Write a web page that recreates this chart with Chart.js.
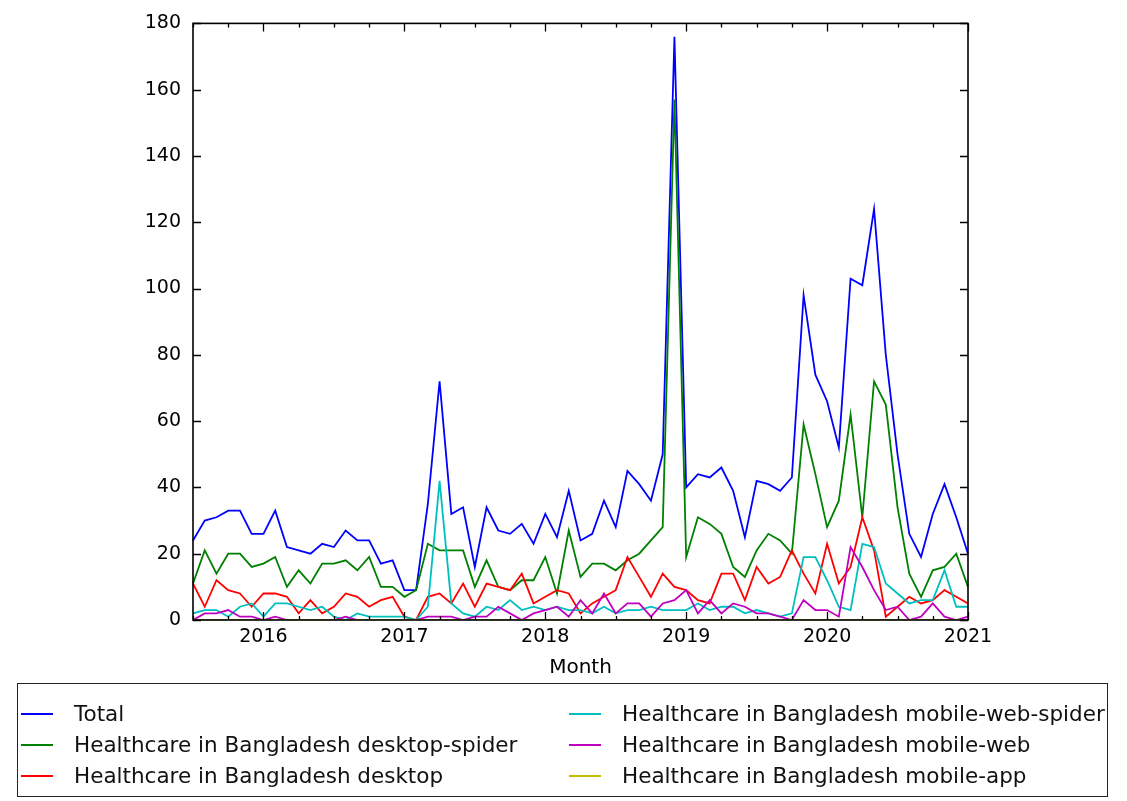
<!DOCTYPE html>
<html>
<head>
<meta charset="utf-8">
<script src="https://cdn.jsdelivr.net/npm/chart.js@4.4.1/dist/chart.umd.min.js"></script>
<style>
    body { margin: 0; background: #fff; font-family: "DejaVu Sans", sans-serif; }
    #wrap { position: absolute; left: 0; top: 0; width: 1127px; height: 690px; }
    #legend {
        position: absolute; left: 17px; top: 683px; width: 1089px; height: 112px;
        border: 1.3px solid #222; box-sizing: content-box;
    }
    .item { position: absolute; height: 24px; font-size: 21.5px; line-height: 24px; color: #111; white-space: nowrap; }
    .item span.swatch { position: absolute; left: 0; top: 11px; width: 32px; height: 2px; }
    .item span.text { position: absolute; left: 53px; top: 0; }
</style>
</head>
<body>
<div id="wrap"><canvas id="chart"></canvas></div>
<div id="legend"></div>
<script>
// Monthly categories, Jul 2015 .. Jan 2021
const months = [
    '2015-07','2015-08','2015-09','2015-10','2015-11','2015-12',
    '2016-01','2016-02','2016-03','2016-04','2016-05','2016-06','2016-07','2016-08','2016-09','2016-10','2016-11','2016-12',
    '2017-01','2017-02','2017-03','2017-04','2017-05','2017-06','2017-07','2017-08','2017-09','2017-10','2017-11','2017-12',
    '2018-01','2018-02','2018-03','2018-04','2018-05','2018-06','2018-07','2018-08','2018-09','2018-10','2018-11','2018-12',
    '2019-01','2019-02','2019-03','2019-04','2019-05','2019-06','2019-07','2019-08','2019-09','2019-10','2019-11','2019-12',
    '2020-01','2020-02','2020-03','2020-04','2020-05','2020-06','2020-07','2020-08','2020-09','2020-10','2020-11','2020-12',
    '2021-01'
];
const yearTicks = ['2016', '2017', '2018', '2019', '2020', '2021'];
const yTicks = [0, 20, 40, 60, 80, 100, 120, 140, 160, 180];

const total = [24,30,31,33,33,26,26,33,22,21, 20,23,22,27,24,24,17,18,9,9,
    35,72,32,34,16,34,27,26,29,23, 32,25,39,24,26,36,28,45,41,36,
    50,176,40,44,43,46,39,25,42,41, 39,43,98,74,66,52,103,101,124,80,
    50,26,19,32,41,31,20];
const desktopSpider = [11,21,14,20,20,16,17,19,10,15, 11,17,17,18,15,19,10,10,7,9,
    23,21,21,21,10,18,10,9,12,12, 19,8,27,13,17,17,15,18,20,24,
    28,157,19,31,29,26,16,13,21,26, 24,20,59,44,28,36,62,31,72,65,
    34,14,7,15,16,20,10];
const desktop = [11,4,12,9,8,4,8,8,7,2, 6,2,4,8,7,4,6,7,1,0,
    7,8,5,11,4,11,10,9,14,5, 7,9,8,2,5,7,9,19,13,7,
    14,10,9,6,5,14,14,6,16,11, 13,21,14,8,23,11,16,31,21,1,
    4,7,5,6,9,7,5];
const mobileWebSpider = [2,3,3,1,4,5,1,5,5,4, 3,4,1,0,2,1,1,1,1,0,
    4,42,5,2,1,4,3,6,3,4, 3,4,3,3,2,4,2,3,3,4,
    3,3,3,5,3,4,4,2,3,2, 1,2,19,19,12,4,3,23,22,11,
    8,5,6,6,15,4,4];
const mobileWeb = [0,2,2,3,1,1,0,1,0,0, 0,0,0,1,0,0,0,0,0,0,
    1,1,1,0,1,1,4,2,0,2, 3,4,1,6,2,8,2,5,5,1,
    5,6,9,2,6,2,5,4,2,2, 1,0,6,3,3,1,22,16,9,3,
    4,0,1,5,1,0,1];
const mobileApp = [0,0,0,0,0,0,0,0,0,0, 0,0,0,0,0,0,0,0,0,0,
    0,0,0,0,0,0,0,0,0,0, 0,0,0,0,0,0,0,0,0,0,
    0,0,0,0,0,0,0,0,0,0, 0,0,0,0,0,0,0,0,0,0,
    0,0,0,0,0,0,0];

const seriesNames = [
    'Total',
    'Healthcare in Bangladesh desktop-spider',
    'Healthcare in Bangladesh desktop',
    'Healthcare in Bangladesh mobile-web-spider',
    'Healthcare in Bangladesh mobile-web',
    'Healthcare in Bangladesh mobile-app'
];
const seriesData = [total, desktopSpider, desktop, mobileWebSpider, mobileWeb, mobileApp];
const seriesColors = ['#0000ff', '#008000', '#ff0000', '#00bfbf', '#bf00bf', '#bfbf00'];

const FONT = "'DejaVu Sans', sans-serif";

// matplotlib style frame with inward ticks on all four sides
const frameTicks = {
    id: 'frameTicks',
    afterDatasetsDraw(chart) {
        const ctx = chart.ctx;
        const a = chart.chartArea;
        const xs = chart.scales.x;
        const ys = chart.scales.y;
        ctx.save();
        ctx.strokeStyle = '#000';
        ctx.lineWidth = 1.3;
        ctx.beginPath();
        months.forEach((m, i) => {
            const isMajor = m.endsWith('-01');
            if (!isMajor && i % 3 !== 0) return;
            const len = isMajor ? 8 : 4;
            const px = Math.round(xs.getPixelForValue(i)) + 0.5;
            ctx.moveTo(px, a.bottom); ctx.lineTo(px, a.bottom - len);
            ctx.moveTo(px, a.top); ctx.lineTo(px, a.top + len);
        });
        yTicks.forEach(v => {
            const py = Math.round(ys.getPixelForValue(v)) + 0.5;
            ctx.moveTo(a.left, py); ctx.lineTo(a.left + 8, py);
            ctx.moveTo(a.right, py); ctx.lineTo(a.right - 8, py);
        });
        ctx.stroke();
        ctx.lineWidth = 1.6;
        ctx.strokeRect(a.left, a.top, a.right - a.left, a.bottom - a.top);
        ctx.restore();
    }
};

const chart = new Chart(document.getElementById('chart'), {
    type: 'line',
    data: {
        labels: months,
        datasets: seriesNames.map((name, i) => ({
            label: name,
            data: seriesData[i],
            borderColor: seriesColors[i],
            backgroundColor: seriesColors[i],
            borderWidth: 1.8,
            pointRadius: 0,
            tension: 0,
            fill: false,
            order: seriesNames.length - i
        }))
    },
    options: {
        responsive: true,
        maintainAspectRatio: false,
        animation: false,
        layout: { padding: { left: 0, right: 159, top: 20, bottom: 0 } },
        plugins: {
            legend: { display: false },
            tooltip: { enabled: false }
        },
        scales: {
            x: {
                type: 'category',
                offset: false,
                grid: { display: false, drawTicks: false },
                border: { display: false },
                ticks: {
                    autoSkip: false,
                    maxRotation: 0,
                    padding: 6,
                    color: '#000',
                    font: { family: FONT, size: 19 },
                    callback: function (value) {
                        const m = months[value];
                        const y = m.slice(0, 4);
                        return m.endsWith('-01') && yearTicks.includes(y) ? y : '';
                    }
                },
                title: {
                    display: true,
                    text: 'Month',
                    color: '#000',
                    font: { family: FONT, size: 20 },
                    padding: { top: 0, bottom: 10 }
                },
                afterFit: (scale) => { scale.height = 70; }
            },
            y: {
                min: 0,
                max: 180,
                grid: { display: false, drawTicks: false },
                border: { display: false },
                ticks: {
                    stepSize: 20,
                    padding: 12,
                    color: '#000',
                    font: { family: FONT, size: 19 }
                },
                afterFit: (scale) => { scale.width = 193; }
            }
        }
    },
    plugins: [frameTicks]
});

// Legend in two columns, filled column by column
const legendEl = document.getElementById('legend');
chart.data.datasets.forEach((ds, i) => {
    const col = Math.floor(i / 3);
    const row = i % 3;
    const item = document.createElement('div');
    item.className = 'item';
    item.style.left = (col === 0 ? 3 : 551) + 'px';
    item.style.top = (18 + row * 31) + 'px';
    item.innerHTML = '<span class="swatch" style="background:' + ds.borderColor + '"></span>' +
        '<span class="text">' + ds.label + '</span>';
    legendEl.appendChild(item);
});
</script>
</body>
</html>
